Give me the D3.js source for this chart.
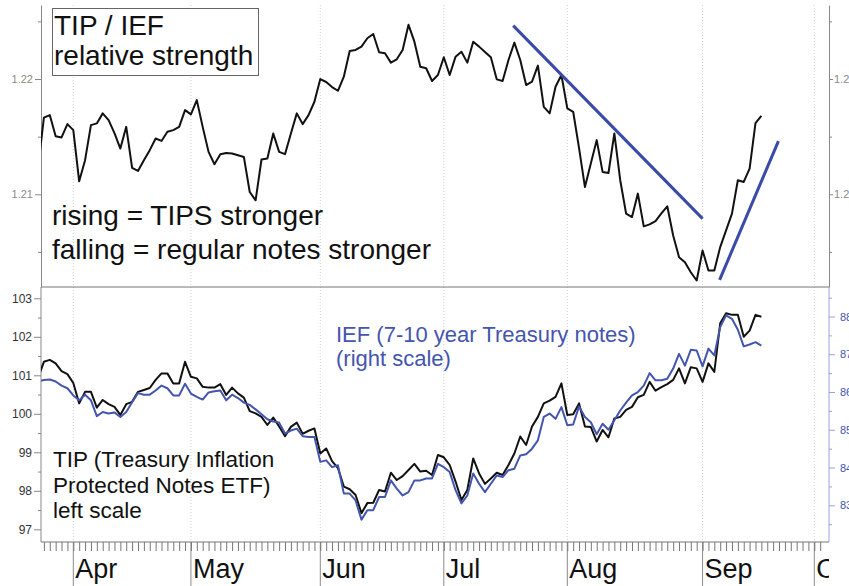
<!DOCTYPE html>
<html>
<head>
<meta charset="utf-8">
<script src="https://cdn.jsdelivr.net/npm/d3@7"></script>
<style>
  body { margin: 0; background: #fff; }
  svg { display: block; font-family: "Liberation Sans", Arial, sans-serif; }
</style>
</head>
<body>
<div id="chart"></div>
<script>
// daily closes, trading-day index starting at -1 (one day off the left edge)
var firstDay = -1;

var ratio = [1.21226, 1.21665, 1.21687, 1.21504, 1.21493, 1.21609, 1.21557, 1.21113, 1.21296, 1.21600, 1.21615,
  1.21702, 1.21643, 1.21530, 1.21397, 1.21585, 1.21229, 1.21203, 1.21296, 1.21383, 1.21484,
  1.21463, 1.21542, 1.21557, 1.21585, 1.21730, 1.21693, 1.21817, 1.21585, 1.21368, 1.21261,
  1.21348, 1.21359, 1.21354, 1.21339, 1.21324, 1.21020, 1.20948, 1.21302, 1.21310, 1.21528,
  1.21368, 1.21348, 1.21528, 1.21702, 1.21609, 1.21687, 1.21803, 1.22000, 1.21974, 1.21930,
  1.21898, 1.22020, 1.22243, 1.22252, 1.22281, 1.22354, 1.22391, 1.22232, 1.22223, 1.22142,
  1.22171, 1.22252, 1.22470, 1.22324, 1.22107, 1.22093, 1.21983, 1.22035, 1.22189, 1.22035,
  1.22194, 1.22237, 1.22142, 1.22324, 1.22281, 1.22235, 1.22189, 1.21997, 1.21983, 1.22165,
  1.22316, 1.22165, 1.21948, 1.21977, 1.22116, 1.21759, 1.21702, 1.21933, 1.22035, 1.21745,
  1.21716, 1.21400, 1.21063, 1.21267, 1.21470, 1.21194, 1.21185, 1.21528, 1.21122, 1.20832,
  1.20803, 1.21006, 1.20722, 1.20739, 1.20768, 1.20835, 1.20896, 1.20643, 1.20455, 1.20411,
  1.20324, 1.20252, 1.20513, 1.20339, 1.20339, 1.20542, 1.20687, 1.20832, 1.21122, 1.21107,
  1.21223, 1.21617, 1.21681];

var tip = [100.93, 101.35, 101.40, 101.31, 101.11, 101.03, 100.80, 100.27, 100.57, 100.57, 100.16,
  100.36, 100.25, 100.18, 99.97, 100.25, 100.31, 100.57, 100.62, 100.67, 100.88,
  101.05, 101.05, 100.79, 100.79, 101.35, 100.96, 100.92, 100.70, 100.68, 100.68,
  100.77, 100.49, 100.68, 100.53, 100.42, 100.07, 100.01, 99.92, 99.71, 99.90,
  99.67, 99.42, 99.66, 99.77, 99.48, 99.56, 99.62, 98.97, 99.10, 98.77,
  98.59, 98.11, 98.04, 97.89, 97.42, 97.68, 97.69, 98.02, 97.98, 98.47,
  98.28, 98.38, 98.54, 98.70, 98.50, 98.52, 98.41, 98.93, 98.87, 98.67,
  98.24, 97.76, 98.02, 98.84, 98.45, 98.18, 98.32, 98.47, 98.41, 98.67,
  98.97, 99.41, 99.19, 99.67, 99.92, 100.27, 100.34, 100.44, 100.79, 99.97,
  99.99, 100.27, 99.67, 99.66, 99.28, 99.58, 99.39, 99.88, 99.92, 100.10,
  100.18, 100.43, 100.49, 100.83, 100.60, 100.69, 100.77, 100.88, 101.18, 100.79,
  101.21, 101.18, 100.83, 101.31, 101.09, 102.35, 102.61, 102.57, 102.57, 102.00,
  102.16, 102.57, 102.52];

var ief = [86.28, 86.32, 86.33, 86.28, 86.17, 86.10, 85.91, 85.78, 85.93, 85.78, 85.36,
  85.47, 85.43, 85.46, 85.34, 85.47, 85.73, 85.97, 85.93, 85.93, 86.04,
  86.17, 86.10, 85.91, 85.91, 86.22, 85.96, 85.87, 85.80, 85.99, 86.02,
  86.04, 85.78, 85.93, 85.84, 85.72, 85.66, 85.54, 85.41, 85.28, 85.22,
  85.19, 84.90, 84.98, 85.03, 84.83, 84.81, 84.81, 84.15, 84.19, 84.01,
  84.06, 83.31, 83.31, 83.13, 82.62, 82.87, 82.87, 83.22, 83.22, 83.66,
  83.44, 83.26, 83.35, 83.66, 83.66, 83.71, 83.71, 84.10, 84.01, 83.88,
  83.40, 83.05, 83.26, 83.84, 83.57, 83.35, 83.57, 83.79, 83.75, 83.93,
  83.97, 84.32, 84.35, 84.50, 84.72, 85.34, 85.43, 85.29, 85.60, 85.12,
  85.14, 85.62, 85.34, 85.20, 84.88, 85.16, 85.00, 85.25, 85.51, 85.72,
  85.91, 86.00, 86.17, 86.50, 86.31, 86.31, 86.35, 86.62, 87.01, 86.70,
  87.12, 87.10, 86.68, 87.15, 86.97, 87.72, 88.03, 87.94, 87.65, 87.21,
  87.26, 87.32, 87.23];

var months = ["Apr", "May", "Jun", "Jul", "Aug", "Sep", "Oct"];
var monthStart = [5, 25, 47, 68, 89, 112, 131];   // trading-day index of 1st day
var lastTickDay = 133;

var ratioTicks = [1.21, 1.22];
var ratioMinor = [1.205, 1.215, 1.225];
var tipTicks = [97, 98, 99, 100, 101, 102, 103];
var tipMinor = [97.5, 98.5, 99.5, 100.5, 101.5, 102.5];
var iefTicks = [83, 84, 85, 86, 87, 88];
var iefMinor = [82.5, 83.5, 84.5, 85.5, 86.5, 87.5, 88.5];

// hand-drawn trend lines on the ratio panel (day, ratio)
var trendDown = [[79.8, 1.22463], [112, 1.20789]];
var trendUp = [[114.9, 1.20258], [124.9, 1.21461]];

var W = 849, H = 586;
var left = 41, right = 829, topY = 5, midY = 287, botY = 542;
var blue = "#4455ae";

var svg = d3.select("#chart").append("svg")
    .attr("width", W).attr("height", H);

var x = d3.scaleLinear().domain([0, 131]).range([43.9, 814.3]);
var yTop = d3.scaleLinear().domain([1.20196, 1.22642]).range([midY, topY]);
var yTip = d3.scaleLinear().domain([97, 103]).range([529.3, 298.3]);
var yIef = d3.scaleLinear().domain([83, 88]).range([505.3, 316.5]);

var defs = svg.append("defs");
defs.append("clipPath").attr("id", "clipTop").append("rect")
    .attr("x", left).attr("y", topY).attr("width", right - left).attr("height", midY - topY);
defs.append("clipPath").attr("id", "clipBot").append("rect")
    .attr("x", left).attr("y", midY).attr("width", right - left).attr("height", botY - midY);
defs.append("clipPath").attr("id", "clipMonths").append("rect")
    .attr("x", left).attr("y", botY).attr("width", right - left).attr("height", H - botY);

// dotted month grid + solid month separators below the axis
monthStart.forEach(function(d) {
    svg.append("line")
        .attr("x1", x(d)).attr("x2", x(d)).attr("y1", topY).attr("y2", botY)
        .attr("stroke", "#cfcfcf").attr("stroke-dasharray", "1,2");
    svg.append("line")
        .attr("x1", x(d)).attr("x2", x(d)).attr("y1", botY).attr("y2", H)
        .attr("stroke", "#8a8a8a");
});

// daily ticks
svg.append("g")
    .attr("transform", "translate(0," + botY + ")")
    .call(d3.axisBottom(x).tickValues(d3.range(0, lastTickDay)).tickSize(9).tickFormat(""))
    .call(function(g) {
        g.select(".domain").remove();
        g.selectAll("line").attr("stroke", "#777");
    });

// frame lines
svg.append("line").attr("x1", left).attr("x2", right).attr("y1", midY).attr("y2", midY).attr("stroke", "#777");
svg.append("line").attr("x1", left).attr("x2", right).attr("y1", botY).attr("y2", botY).attr("stroke", "#777");

function axisStyle(g, lineColor, textColor, size) {
    g.select(".domain").attr("stroke", lineColor);
    g.selectAll(".tick line").attr("stroke", lineColor);
    g.selectAll("text").attr("fill", textColor).attr("font-size", size)
        .attr("font-family", "'Liberation Sans', Arial, sans-serif");
}

// top panel axes
svg.append("g").attr("transform", "translate(" + left + ",0)")
    .call(d3.axisLeft(yTop).tickValues(ratioTicks).tickSize(6).tickSizeOuter(0).tickPadding(2).tickFormat(d3.format(".2f")))
    .call(axisStyle, "#888", "#8a8a8a", 11);
svg.append("g").attr("transform", "translate(" + left + ",0)")
    .call(d3.axisLeft(yTop).tickValues(ratioMinor).tickSize(3).tickFormat(""))
    .call(function(g) { g.select(".domain").remove(); g.selectAll("line").attr("stroke", "#888"); });
svg.append("g").attr("transform", "translate(" + right + ",0)")
    .call(d3.axisRight(yTop).tickValues(ratioTicks).tickSize(4).tickSizeOuter(0).tickPadding(1).tickFormat(d3.format(".2f")))
    .call(axisStyle, "#888", "#8a8a8a", 11);
svg.append("g").attr("transform", "translate(" + right + ",0)")
    .call(d3.axisRight(yTop).tickValues(ratioMinor).tickSize(3).tickFormat(""))
    .call(function(g) { g.select(".domain").remove(); g.selectAll("line").attr("stroke", "#888"); });

// bottom panel axes
svg.append("g").attr("transform", "translate(" + left + ",0)")
    .call(d3.axisLeft(yTip).tickValues(tipTicks).tickSize(7).tickSizeOuter(0).tickPadding(2).tickFormat(d3.format("d")))
    .call(axisStyle, "#888", "#333", 12)
    .call(function(g) { g.select(".domain").attr("d", "M0," + midY + "V" + botY); });
svg.append("g").attr("transform", "translate(" + left + ",0)")
    .call(d3.axisLeft(yTip).tickValues(tipMinor).tickSize(3).tickFormat(""))
    .call(function(g) { g.select(".domain").remove(); g.selectAll("line").attr("stroke", "#888"); });
svg.append("g").attr("transform", "translate(" + right + ",0)")
    .call(d3.axisRight(yIef).tickValues(iefTicks).tickSize(6).tickSizeOuter(0).tickPadding(5).tickFormat(d3.format("d")))
    .call(axisStyle, "#9aa2dc", blue, 11)
    .call(function(g) { g.select(".domain").attr("d", "M0," + midY + "V" + botY); });
svg.append("g").attr("transform", "translate(" + right + ",0)")
    .call(d3.axisRight(yIef).tickValues(iefMinor).tickSize(3).tickFormat(""))
    .call(function(g) { g.select(".domain").remove(); g.selectAll("line").attr("stroke", "#9aa2dc"); });

// month labels
svg.append("g").attr("clip-path", "url(#clipMonths)")
    .selectAll("text").data(months).enter().append("text")
    .attr("x", function(d, i) { return x(monthStart[i]) + 2; })
    .attr("y", 578)
    .attr("font-size", 27)
    .attr("fill", "#111")
    .text(function(d) { return d; });

// series
function seriesLine(scale) {
    return d3.line()
        .x(function(d, i) { return x(firstDay + i); })
        .y(function(d) { return scale(d); });
}

var topG = svg.append("g").attr("clip-path", "url(#clipTop)");
topG.append("path").datum(ratio)
    .attr("d", seriesLine(yTop))
    .attr("fill", "none").attr("stroke", "#111").attr("stroke-width", 2).attr("stroke-linejoin", "round");

var trend = d3.line().x(function(d) { return x(d[0]); }).y(function(d) { return yTop(d[1]); });
[trendDown, trendUp].forEach(function(t) {
    topG.append("path").datum(t).attr("d", trend)
        .attr("fill", "none").attr("stroke", "#3a4aa8").attr("stroke-width", 3);
});

var botG = svg.append("g").attr("clip-path", "url(#clipBot)");
botG.append("path").datum(tip)
    .attr("d", seriesLine(yTip))
    .attr("fill", "none").attr("stroke", "#111").attr("stroke-width", 2).attr("stroke-linejoin", "round");
botG.append("path").datum(ief)
    .attr("d", seriesLine(yIef))
    .attr("fill", "none").attr("stroke", blue).attr("stroke-width", 2).attr("stroke-linejoin", "round");

// annotations
svg.append("rect").attr("x", 52.5).attr("y", 8.5).attr("width", 206).attr("height", 67)
    .attr("fill", "#fff").attr("stroke", "#666");

function textBlock(lines, x0, y0, dy, size, color) {
    var t = svg.append("text").attr("font-size", size).attr("fill", color);
    lines.forEach(function(s, i) {
        t.append("tspan").attr("x", x0).attr("y", y0 + i * dy).text(s);
    });
}
textBlock(["TIP / IEF", "relative strength"], 54, 35, 30, 28, "#111");
textBlock(["rising = TIPS stronger", "falling = regular notes stronger"], 52, 225, 34, 28, "#111");
textBlock(["TIP (Treasury Inflation", "Protected Notes ETF)", "left scale"], 53, 467, 25.5, 22.5, "#111");
textBlock(["IEF (7-10 year Treasury notes)", "(right scale)"], 336, 341.5, 24, 22, blue);
</script>
</body>
</html>
